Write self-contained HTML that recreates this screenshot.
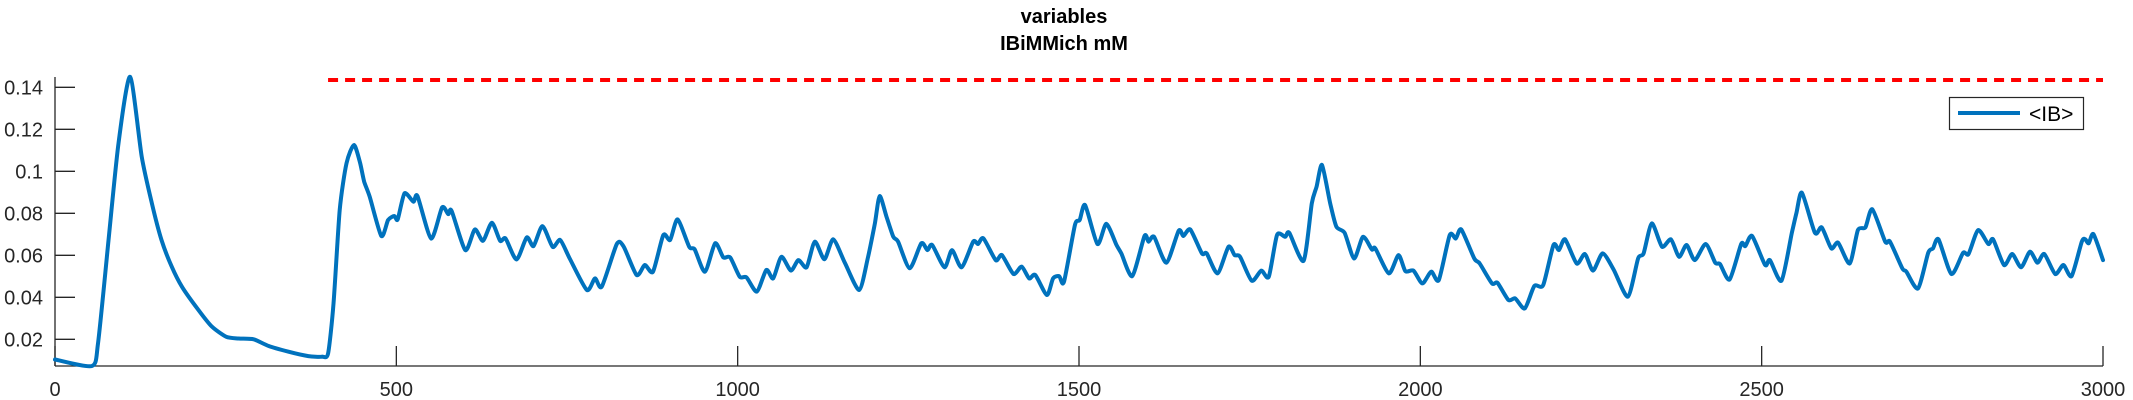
<!DOCTYPE html>
<html>
<head>
<meta charset="utf-8">
<style>
  html, body { margin: 0; padding: 0; background: #fff; }
  svg { display: block; font-family: "Liberation Sans", "DejaVu Sans", sans-serif; }
</style>
</head>
<body>
<svg id="chart" width="2133" height="400" viewBox="0 0 2133 400" xmlns="http://www.w3.org/2000/svg">
  <g id="title">
    <text x="1064" y="23" text-anchor="middle" font-size="20" font-weight="bold" fill="#000">variables</text>
    <text x="1064" y="50" text-anchor="middle" font-size="20" font-weight="bold" fill="#000">IBiMMich mM</text>
  </g>
  <g id="axes"></g>
  <g id="series"></g>
  <g id="legend">
    <rect x="1949.5" y="97.5" width="134" height="32" fill="#fff" stroke="#262626" stroke-width="1.2"/>
    <line x1="1958" y1="113" x2="2020" y2="113" stroke="#0072BD" stroke-width="4"/>
    <text x="2029" y="121" font-size="21" fill="#000">&lt;IB&gt;</text>
  </g>
</svg>
<script>
const xTicks = [0, 500, 1000, 1500, 2000, 2500, 3000];
const yTicks = [0.02, 0.04, 0.06, 0.08, 0.1, 0.12, 0.14];
const yTickLabels = ["0.02", "0.04", "0.06", "0.08", "0.1", "0.12", "0.14"];
const thresholdValue = 0.1435;
const thresholdStart = 400;
const thresholdEnd = 3000;
const ibTime = [0,54,63,78,93,110,127,142,156,171,186,210,230,251,269,291,313,342,371,391,400,408,417,427,438,447,453,461,478,488,497,502,512,525,531,551,567,576,581,601,
615,627,640,652,660,676,691,701,714,729,740,754,779,791,801,823,833,852,864,876,891,901,912,929,937,952,967,979,989,1003,1013,1028,1042,1052,1064,1078,1089,1101,1113,1127,1140,1157,1178,1191,1201,
1208,1218,1228,1235,1252,1269,1278,1285,1303,1314,1328,1345,1352,1360,1378,1387,1404,1416,1427,1436,1453,1462,1471,1478,1494,1501,1509,1527,1540,1555,1562,1578,1596,1602,1610,1628,1646,1653,1663,1680,1687,1703,1719,1728,1736,1753,1767,1778,1790,1802,
1808,1829,1841,1848,1856,1868,1877,1889,1903,1916,1929,1934,1954,1968,1978,1990,2003,2016,2027,2043,2052,2060,2079,2087,2105,2113,2129,2139,2153,2167,2180,2195,2203,2212,2229,2241,2253,2267,2283,2304,2319,2327,2339,2354,2367,2379,2390,2402,
2418,2432,2439,2453,2470,2476,2486,2505,2512,2529,2544,2551,2559,2578,2588,2602,2612,2629,2641,2652,2662,2681,2688,2706,2712,2729,2744,2751,2759,2778,2795,2803,2817,2832,2839,2855,2867,2880,2893,2904,2914,2930,2942,2954,2969,2974,2979,2986,3000];
const ibValue = [.0104,.0073,.018,.0657,.1133,.145,.107,.0847,.0673,.0546,.045,.034,.026,.0212,.0204,.02,.0168,.0141,.012,.0117,.0133,.037,.0815,.1038,.1125,.1038,.095,.0879,.0692,.0768,.0787,.0771,.0895,.0855,.0882,.068,.0828,.0796,.0812,.0625,
.0723,.0669,.0755,.0669,.068,.058,.0685,.0644,.0739,.064,.0673,.0585,.0435,.049,.0451,.0654,.0641,.0506,.0554,.0522,.0696,.0673,.0771,.0641,.0628,.0522,.0657,.059,.059,.0498,.0495,.0427,.053,.049,.0593,.0527,.0577,.0543,.0665,.0581,.0676,.0565,.0435,.0593,.0752,
.0882,.0784,.0688,.0665,.0538,.0657,.0625,.0649,.0543,.0625,.0543,.0665,.0654,.0681,.0577,.0601,.0511,.0546,.049,.0506,.0411,.049,.0501,.0474,.0744,.0768,.0839,.0654,.075,.0649,.0609,.0501,.0692,.0665,.0688,.0565,.0717,.0692,.0723,.0609,.0609,.0514,.0641,.0601,.0593,.0479,.0527,.0498,.0696,.0688,
.0707,.0574,.0847,.0927,.103,.0847,.0736,.0707,.0585,.0688,.0628,.0633,.0514,.0601,.0525,.0527,.0466,.0522,.0482,.0696,.068,.0723,.0585,.0561,.0466,.0469,.0387,.0395,.0347,.0454,.0458,.0649,.0625,.0676,.0561,.0606,.0527,.0609,.0533,.0403,.0585,.0609,.0752,.0641,.0676,.0593,.0649,.0577,
.0654,.0565,.0558,.0485,.0654,.0644,.0692,.0554,.0577,.0479,.0704,.0803,.0898,.0707,.0733,.0633,.066,.0561,.072,.0733,.0819,.0665,.0665,.0538,.0522,.0442,.0612,.0633,.0676,.0511,.0612,.0606,.072,.0654,.0676,.0554,.0606,.0543,.0617,.0565,.0606,.0511,.0554,.0501,.0665,.0676,.0657,.0701,.0577];

const NS = "http://www.w3.org/2000/svg";
const X0 = 55, X1 = 2103, Y0 = 366, Y1 = 77;
const xMin = 0, xMax = 3000, yMin = 0.00729, yMax = 0.1449;
function sx(v) { return X0 + (v - xMin) / (xMax - xMin) * (X1 - X0); }
function sy(v) { return Y0 - (v - yMin) / (yMax - yMin) * (Y0 - Y1); }
function mk(tag, attrs, parent) {
  const el = document.createElementNS(NS, tag);
  for (const k in attrs) el.setAttribute(k, attrs[k]);
  parent.appendChild(el);
  return el;
}
const axes = document.getElementById("axes");
const series = document.getElementById("series");

const xAxis = mk("line", {x1: X0, y1: Y0, x2: X1, y2: Y0, stroke: "#262626", "stroke-width": 1.3}, axes);


const yAxis = mk("line", {x1: X0, y1: Y0, x2: X0, y2: Y1, stroke: "#262626", "stroke-width": 1.3}, axes);



xTicks.forEach(function (t) {
  const x = sx(t);
  const tk = mk("line", {x1: x, y1: Y0, x2: x, y2: Y0 - 20, stroke: "#262626", "stroke-width": 1.3}, axes);
  
  
  const lb = mk("text", {x: x, y: 396, "text-anchor": "middle", "font-size": 20, fill: "#262626"}, axes);
  lb.textContent = String(t);
  
  
});
yTicks.forEach(function (t, i) {
  const y = sy(t);
  const tk = mk("line", {x1: X0, y1: y, x2: X0 + 20, y2: y, stroke: "#262626", "stroke-width": 1.3}, axes);
  
  
  const lb = mk("text", {x: 43, y: y + 7, "text-anchor": "end", "font-size": 20, fill: "#262626"}, axes);
  lb.textContent = yTickLabels[i];
  
  
});

const thr = mk("line", {x1: sx(thresholdStart), y1: sy(thresholdValue), x2: sx(thresholdEnd), y2: sy(thresholdValue), stroke: "#FF0000", "stroke-width": 4, "stroke-dasharray": "10 7"}, series);



const pts = ibTime.map(function (t, i) { return [sx(t), sy(ibValue[i])]; });
let d = "M" + pts[0][0].toFixed(1) + "," + pts[0][1].toFixed(1);
for (let i = 0; i < pts.length - 1; i++) {
  const p0 = pts[Math.max(0, i - 1)], p1 = pts[i], p2 = pts[i + 1], p3 = pts[Math.min(pts.length - 1, i + 2)];
  const k = 0.35 / 3 * 3 / 2;
  const c1x = p1[0] + (p2[0] - p0[0]) * k / 1.5, c1y = p1[1] + (p2[1] - p0[1]) * k / 1.5;
  const c2x = p2[0] - (p3[0] - p1[0]) * k / 1.5, c2y = p2[1] - (p3[1] - p1[1]) * k / 1.5;
  d += " C" + c1x.toFixed(1) + "," + c1y.toFixed(1) + " " + c2x.toFixed(1) + "," + c2y.toFixed(1) + " " + p2[0].toFixed(1) + "," + p2[1].toFixed(1);
}
const ln = mk("path", {d: d, fill: "none", stroke: "#0072BD", "stroke-width": 4, "stroke-linejoin": "round", "stroke-linecap": "round"}, series);


</script>
</body>
</html>
